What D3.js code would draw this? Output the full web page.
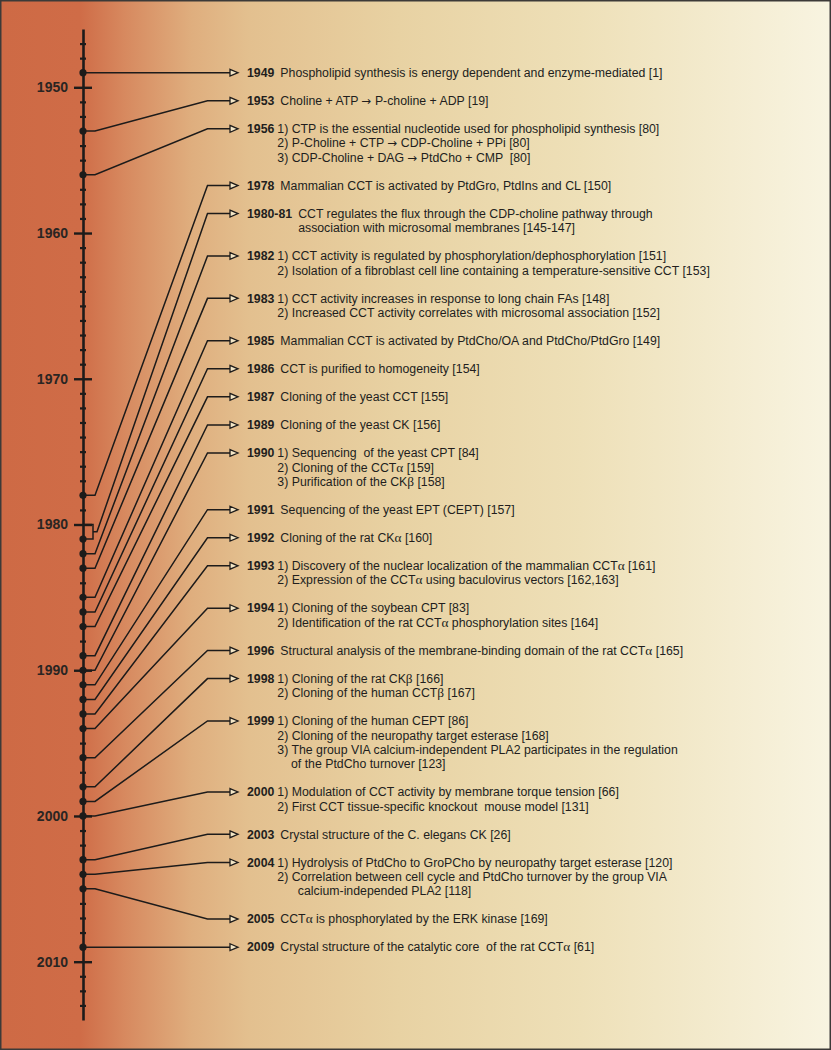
<!DOCTYPE html>
<html>
<head>
<meta charset="utf-8">
<script src="https://cdn.jsdelivr.net/npm/d3@7"></script>
<style>
  html, body { margin: 0; padding: 0; background: #fff; }
  svg { display: block; }
</style>
</head>
<body>
<svg id="chart" width="831" height="1050"></svg>
<script>
// ---------------- data ----------------
const axisDomain = [1946, 2014];
const decadeTicks = [1950, 1960, 1970, 1980, 1990, 2000, 2010];

const eventLabels = ["1949", "1953", "1956", "1978", "1980-81", "1982", "1983", "1985",
  "1986", "1987", "1989", "1990", "1991", "1992", "1993", "1994", "1996", "1998",
  "1999", "2000", "2003", "2004", "2005", "2009"];

const eventYears = [[1949], [1953], [1956], [1978], [1980, 1981], [1982], [1983], [1985],
  [1986], [1987], [1989], [1990], [1991], [1992], [1993], [1994], [1996], [1998],
  [1999], [2000], [2003], [2004], [2005], [2009]];

const eventNumbered = [false, false, true, false, false, true, true, false,
  false, false, false, true, false, false, true, true, false, true,
  true, true, false, true, false, false];

const eventLines = [
  ["Phospholipid synthesis is energy dependent and enzyme-mediated [1]"],
  ["Choline + ATP \u2192 P-choline + ADP [19]"],
  ["1) CTP is the essential nucleotide used for phospholipid synthesis [80]",
   "2) P-Choline + CTP \u2192 CDP-Choline + PPi [80]",
   "3) CDP-Choline + DAG \u2192 PtdCho + CMP  [80]"],
  ["Mammalian CCT is activated by PtdGro, PtdIns and CL [150]"],
  ["CCT regulates the flux through the CDP-choline pathway through",
   "association with microsomal membranes [145-147]"],
  ["1) CCT activity is regulated by phosphorylation/dephosphorylation [151]",
   "2) Isolation of a fibroblast cell line containing a temperature-sensitive CCT [153]"],
  ["1) CCT activity increases in response to long chain FAs [148]",
   "2) Increased CCT activity correlates with microsomal association [152]"],
  ["Mammalian CCT is activated by PtdCho/OA and PtdCho/PtdGro [149]"],
  ["CCT is purified to homogeneity [154]"],
  ["Cloning of the yeast CCT [155]"],
  ["Cloning of the yeast CK [156]"],
  ["1) Sequencing  of the yeast CPT [84]",
   "2) Cloning of the CCT\u03b1 [159]",
   "3) Purification of the CK\u03b2 [158]"],
  ["Sequencing of the yeast EPT (CEPT) [157]"],
  ["Cloning of the rat CK\u03b1 [160]"],
  ["1) Discovery of the nuclear localization of the mammalian CCT\u03b1 [161]",
   "2) Expression of the CCT\u03b1 using baculovirus vectors [162,163]"],
  ["1) Cloning of the soybean CPT [83]",
   "2) Identification of the rat CCT\u03b1 phosphorylation sites [164]"],
  ["Structural analysis of the membrane-binding domain of the rat CCT\u03b1 [165]"],
  ["1) Cloning of the rat CK\u03b2 [166]",
   "2) Cloning of the human CCT\u03b2 [167]"],
  ["1) Cloning of the human CEPT [86]",
   "2) Cloning of the neuropathy target esterase [168]",
   "3) The group VIA calcium-independent PLA2 participates in the regulation",
   "    of the PtdCho turnover [123]"],
  ["1) Modulation of CCT activity by membrane torque tension [66]",
   "2) First CCT tissue-specific knockout  mouse model [131]"],
  ["Crystal structure of the C. elegans CK [26]"],
  ["1) Hydrolysis of PtdCho to GroPCho by neuropathy target esterase [120]",
   "2) Correlation between cell cycle and PtdCho turnover by the group VIA",
   "      calcium-independed PLA2 [118]"],
  ["CCT\u03b1 is phosphorylated by the ERK kinase [169]"],
  ["Crystal structure of the catalytic core  of the rat CCT\u03b1 [61]"]
];

// ---------------- drawing ----------------
const W = 831, H = 1050;
const svg = d3.select("#chart");
const defs = svg.append("defs");

const grad = defs.append("linearGradient").attr("id", "bg")
  .attr("x1", "0%").attr("x2", "100%").attr("y1", "0%").attr("y2", "0%");
[["0%", "#ce6a45"], ["9.6%", "#cf6c47"], ["15%", "#d7895f"], ["23%", "#dfae7e"],
 ["30%", "#e3c08f"], ["48%", "#e8d2a3"], ["70%", "#eee0b8"], ["100%", "#f8f4e1"]]
  .forEach(([o, c]) => grad.append("stop").attr("offset", o).attr("stop-color", c));

svg.append("rect").attr("x", 0).attr("y", 0).attr("width", W).attr("height", H)
  .attr("fill", "url(#bg)");
svg.append("rect").attr("x", 0.75).attr("y", 0.75).attr("width", W - 1.5).attr("height", H - 1.5)
  .attr("fill", "none").attr("stroke", "#3c3a38").attr("stroke-width", 1.5);

const axisX = 83;
const y = d3.scaleLinear().domain(axisDomain).range([29, 1020]);
const ink = "#1d1b1a";

// axis: minor (yearly) ticks
const minorYears = d3.range(axisDomain[0] + 1, axisDomain[1]).filter(v => v % 10 !== 0);
const gMinor = svg.append("g").attr("transform", `translate(${axisX},0)`)
  .call(d3.axisLeft(y).tickValues(minorYears).tickSize(3).tickSizeOuter(0).tickFormat(""));
gMinor.selectAll(".tick line").attr("x1", 3).attr("stroke", ink).attr("stroke-width", 2.2);
gMinor.select(".domain").attr("stroke", ink).attr("stroke-width", 2.6);

// axis: decade ticks + labels
const gMajor = svg.append("g").attr("transform", `translate(${axisX},0)`)
  .call(d3.axisLeft(y).tickValues(decadeTicks).tickSize(9).tickSizeOuter(0)
    .tickPadding(6).tickFormat(d3.format("d")));
gMajor.select(".domain").remove();
gMajor.selectAll(".tick line").attr("x1", 9).attr("stroke", ink).attr("stroke-width", 2.4);
gMajor.selectAll(".tick text")
  .attr("font-family", "Liberation Sans, Arial, sans-serif")
  .attr("font-weight", "bold").attr("font-size", 14).attr("fill", "#2a2522");

// label row layout: first row level with its year, last row level with its year
const lineStep = 14.3;
const nEv = eventLabels.length;
const extraLines = d3.sum(eventLines, l => l.length - 1) - (eventLines[nEv - 1].length - 1);
const span = y(eventYears[nEv - 1][0]) - y(eventYears[0][0]);
const gap = (span - extraLines * lineStep) / (nEv - 1);
const rowY = [];
let cur = y(eventYears[0][0]);
eventLines.forEach((l, i) => { rowY.push(cur); cur += gap + (l.length - 1) * lineStep; });

// connectors
const leftBend = 95, rightBend = 207.5, arrowTip = 238, arrowLen = 8, arrowHalf = 3.4;
const gLinks = svg.append("g").attr("fill", "none").attr("stroke", ink).attr("stroke-width", 1.5);
const line = d3.line();

eventYears.forEach((yrs, i) => {
  const ly = rowY[i];
  let startY, startX;
  if (yrs.length > 1) {
    const y0 = y(yrs[0]), y1 = y(yrs[yrs.length - 1]);
    const bx = axisX + 10;
    gLinks.append("path").attr("d", line([[axisX, y0], [bx, y0], [bx, y1], [axisX, y1]]));
    startX = bx; startY = (y0 + y1) / 2;
    gLinks.append("path").attr("d",
      line([[startX, startY], [startX + 4, startY], [rightBend, ly], [arrowTip - arrowLen, ly]]));
  } else {
    startY = y(yrs[0]);
    const pts = Math.abs(startY - ly) < 0.5
      ? [[axisX, startY], [arrowTip - arrowLen, ly]]
      : [[axisX, startY], [leftBend, startY], [rightBend, ly], [arrowTip - arrowLen, ly]];
    gLinks.append("path").attr("d", line(pts));
  }
  // open arrowhead
  gLinks.append("path").attr("stroke-width", 1.3).attr("stroke-linejoin", "miter")
    .attr("fill", "#f3e6c6")
    .attr("d", line([[arrowTip - arrowLen, ly - arrowHalf], [arrowTip, ly],
                     [arrowTip - arrowLen, ly + arrowHalf]]) + "Z");
  // dot on the axis at the event year
  svg.append("circle").attr("cx", axisX).attr("cy", y(yrs[yrs.length - 1]))
    .attr("r", 3.6).attr("fill", ink);
});

// texts
const font = "Liberation Sans, Arial, sans-serif";
const fs = 12.3;
const gText = svg.append("g").attr("font-family", font).attr("font-size", fs).attr("fill", "#221e1d");
const yearX = 247;

function addRich(sel, str) {
  // greek letters in a serif face and a full-size arrow glyph, as in the original
  const parts = str.split(/([\u03b1\u03b2\u2192])/);
  parts.forEach(p => {
    if (!p) return;
    const t = sel.append("tspan").text(p);
    if (/[\u03b1\u03b2]/.test(p)) t.attr("font-family", "Liberation Serif, serif").attr("font-size", fs + 1);
    if (p === "\u2192") t.attr("font-family", "DejaVu Sans, sans-serif").attr("font-size", fs - 0.5);
  });
}

eventLabels.forEach((lab, i) => {
  const ly = rowY[i];
  const yt = gText.append("text").attr("x", yearX).attr("y", ly).attr("dy", "0.35em")
    .attr("font-weight", "bold").text(lab);
  const yw = yt.node().getComputedTextLength();
  const bodyX = yearX + yw + (eventNumbered[i] ? 3 : 6);
  eventLines[i].forEach((s, k) => {
    const t = gText.append("text").attr("x", bodyX).attr("y", ly + k * lineStep)
      .attr("dy", "0.35em").attr("xml:space", "preserve").style("white-space", "pre");
    addRich(t, s);
  });
});
</script>
</body>
</html>
